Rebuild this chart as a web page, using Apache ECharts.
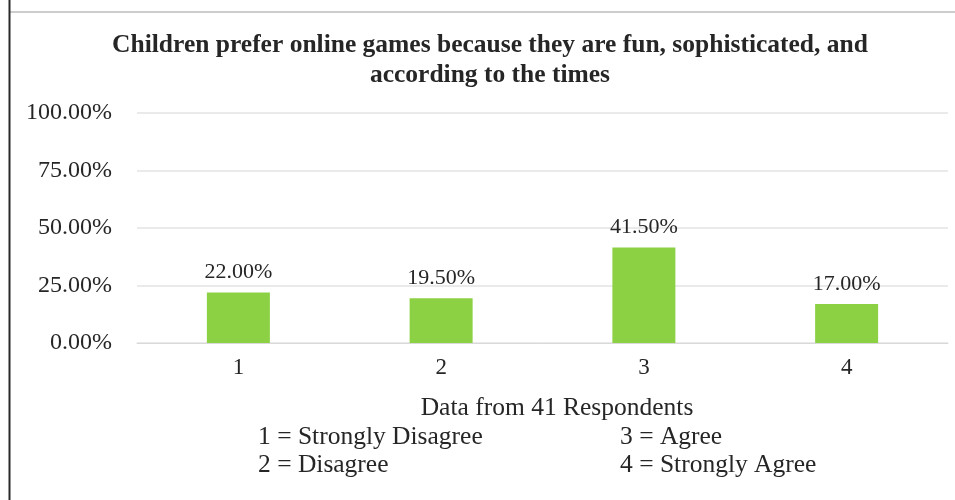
<!DOCTYPE html>
<html>
<head>
<meta charset="utf-8">
<script src="https://cdn.jsdelivr.net/npm/echarts@6/dist/echarts.min.js"></script>
<style>html,body{margin:0;padding:0;background:#fff}#c{width:955px;height:500px}</style>
</head>
<body>
<div id="c"></div>
<script>
const categories = ['1', '2', '3', '4'];
const values = [0.22, 0.195, 0.415, 0.17];
const titleLines = ['Children prefer online games because they are fun, sophisticated, and', 'according to the times'];
const axisName = 'Data from 41 Respondents';
const legendLeft = ['1 = Strongly Disagree', '2 = Disagree'];
const legendRight = ['3 = Agree', '4 = Strongly Agree'];

const serif = '"Liberation Serif", "Times New Roman", serif';
const chart = echarts.init(document.getElementById('c'));
const txtColor = '#262626';
chart.setOption({
  animation: false,
  backgroundColor: '#fff',
  grid: { left: 137, right: 7, top: 113, bottom: 157 },
  xAxis: {
    type: 'category',
    data: categories,
    axisLine: { show: true, lineStyle: { color: '#d9d9d9' } },
    axisTick: { show: false },
    axisLabel: { color: txtColor, fontFamily: serif, fontSize: 23, margin: 13 }
  },
  yAxis: {
    type: 'value',
    min: 0, max: 1, interval: 0.25,
    axisLine: { show: false },
    axisTick: { show: false },
    splitLine: { lineStyle: { color: '#e3e3e3', width: 1.5 } },
    axisLabel: {
      color: txtColor, fontFamily: serif, fontSize: 24, margin: 25,
      formatter: v => (v * 100).toFixed(2) + '%'
    }
  },
  series: [{
    type: 'bar',
    data: values,
    barWidth: 63,
    itemStyle: { color: '#8cd044' },
    label: {
      show: true, position: 'top', distance: 9,
      color: txtColor, fontFamily: serif, fontSize: 22,
      formatter: p => (p.value * 100).toFixed(2) + '%'
    }
  }],
  graphic: [
    { type: 'line', shape: { x1: 9, y1: 12, x2: 955, y2: 12 }, style: { stroke: '#bdbdbd', lineWidth: 1.5 } },
    { type: 'line', shape: { x1: 9.5, y1: 0, x2: 9.5, y2: 500 }, style: { stroke: '#2a2a2a', lineWidth: 2 } },
    { type: 'text', x: 490, y: 45, style: { text: titleLines[0], textAlign: 'center', textVerticalAlign: 'middle', font: 'bold 25.5px ' + serif, fill: txtColor } },
    { type: 'text', x: 490, y: 75, style: { text: titleLines[1], textAlign: 'center', textVerticalAlign: 'middle', font: 'bold 25.5px ' + serif, fill: txtColor } },
    { type: 'text', x: 557, y: 408, style: { text: axisName, textAlign: 'center', textVerticalAlign: 'middle', font: '25.5px ' + serif, fill: txtColor } },
    { type: 'text', x: 258, y: 437, style: { text: legendLeft[0], textAlign: 'left', textVerticalAlign: 'middle', font: '25.5px ' + serif, fill: txtColor } },
    { type: 'text', x: 258, y: 465, style: { text: legendLeft[1], textAlign: 'left', textVerticalAlign: 'middle', font: '25.5px ' + serif, fill: txtColor } },
    { type: 'text', x: 620, y: 437, style: { text: legendRight[0], textAlign: 'left', textVerticalAlign: 'middle', font: '25.5px ' + serif, fill: txtColor } },
    { type: 'text', x: 620, y: 465, style: { text: legendRight[1], textAlign: 'left', textVerticalAlign: 'middle', font: '25.5px ' + serif, fill: txtColor } }
  ]
});
</script>
</body>
</html>
